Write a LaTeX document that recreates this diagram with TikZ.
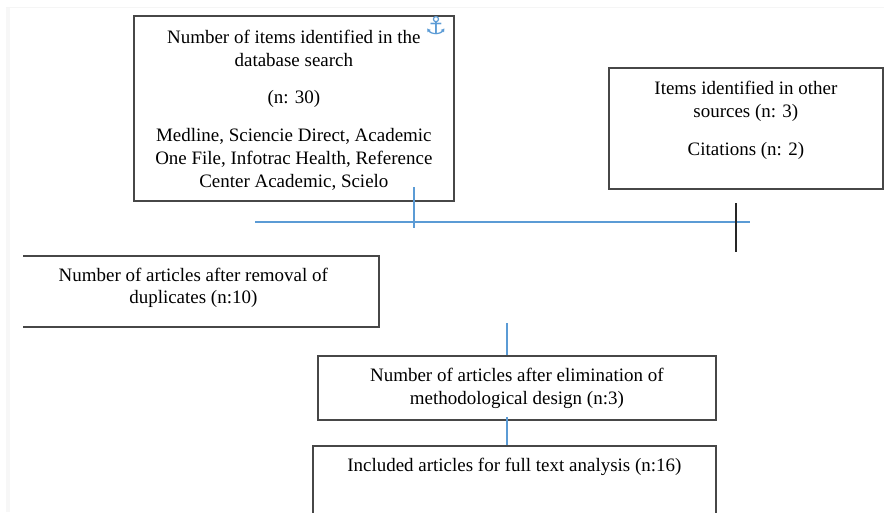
\documentclass[tikz,border=0pt]{standalone}
\usepackage{fontspec}
\setmainfont{Liberation Serif}
\newfontfamily\symfont{DejaVu Sans}
\usepackage{tikz}
\usetikzlibrary{arrows,calc,positioning}
\definecolor{linkblue}{HTML}{5B9BD5}
\newcommand{\boxtext}[4]{\begin{minipage}[t][#2][t]{#1}\centering\fontsize{10.8}{13}\selectfont\vspace*{#3}#4\end{minipage}}
\tikzset{
  itembox/.style={draw=black!72,line width=1pt,inner sep=0pt,anchor=north west},
  openbox/.style={inner sep=0pt,anchor=north west},
  bluelink/.style={draw=linkblue,line width=0.7pt},
  crossmark/.style={draw=black!85,line width=0.8pt}
}

\begin{document}
\begin{tikzpicture}[x=0.02cm,y=-0.02cm]
\useasboundingbox (0,0) rectangle (884,512);
\fill[gray!6] (6,7) rectangle (10,512);
\draw[gray!8] (6,7) -- (884,7);
\node[itembox] (search) at (133,15) {\boxtext{6.4cm}{3.7cm}{8pt}{Number of items identified in the\\ database search\\[8.5pt] (n: 30)\\[8.5pt] Medline, Sciencie Direct, Academic\\ One File, Infotrac Health, Reference\\ Center Academic, Scielo}};
\node[text=linkblue,font=\symfont\bfseries\fontsize{14}{14}\selectfont] (anchor) at (436,26) {⚓};
\node[itembox] (other) at (608,67) {\boxtext{5.48cm}{2.42cm}{7.5pt}{Items identified in other\\ sources (n: 3)\\[9pt] Citations (n: 2)}};
\node[openbox] (dupes) at (23,256) {\boxtext{7.1cm}{1.4cm}{6.5pt}{\hspace*{-0.3cm}Number of articles after removal of\\ \hspace*{-0.3cm}duplicates (n:10)}};
\draw[itembox] (dupes.north west) -- (dupes.north east) -- (dupes.south east) -- (dupes.south west);
\node[itembox] (design) at (317,355) {\boxtext{7.96cm}{1.28cm}{7pt}{Number of articles after elimination of\\ methodological design (n:3)}};
\node[itembox] (included) at (312,445) {\boxtext{8.06cm}{1.8cm}{7pt}{Included articles for full text analysis (n:16)}};
\coordinate (drop) at (414,187);
\coordinate (dropend) at (414,228);
\coordinate (hl) at (255,222);
\coordinate (hr) at (750,222);
\coordinate (mt) at (736,203);
\coordinate (mb) at (736,252);
\coordinate (d2) at (507,323);
\coordinate (d3) at (507,417);
\draw[bluelink] (drop) -- (dropend);
\draw[bluelink] (hl) -- (hr);
\draw[crossmark] (mt) -- (mb);
\draw[bluelink] (d2) -- (d2 |- design.north);
\draw[bluelink] (d3) -- (d3 |- included.north);
\end{tikzpicture}
\end{document}
